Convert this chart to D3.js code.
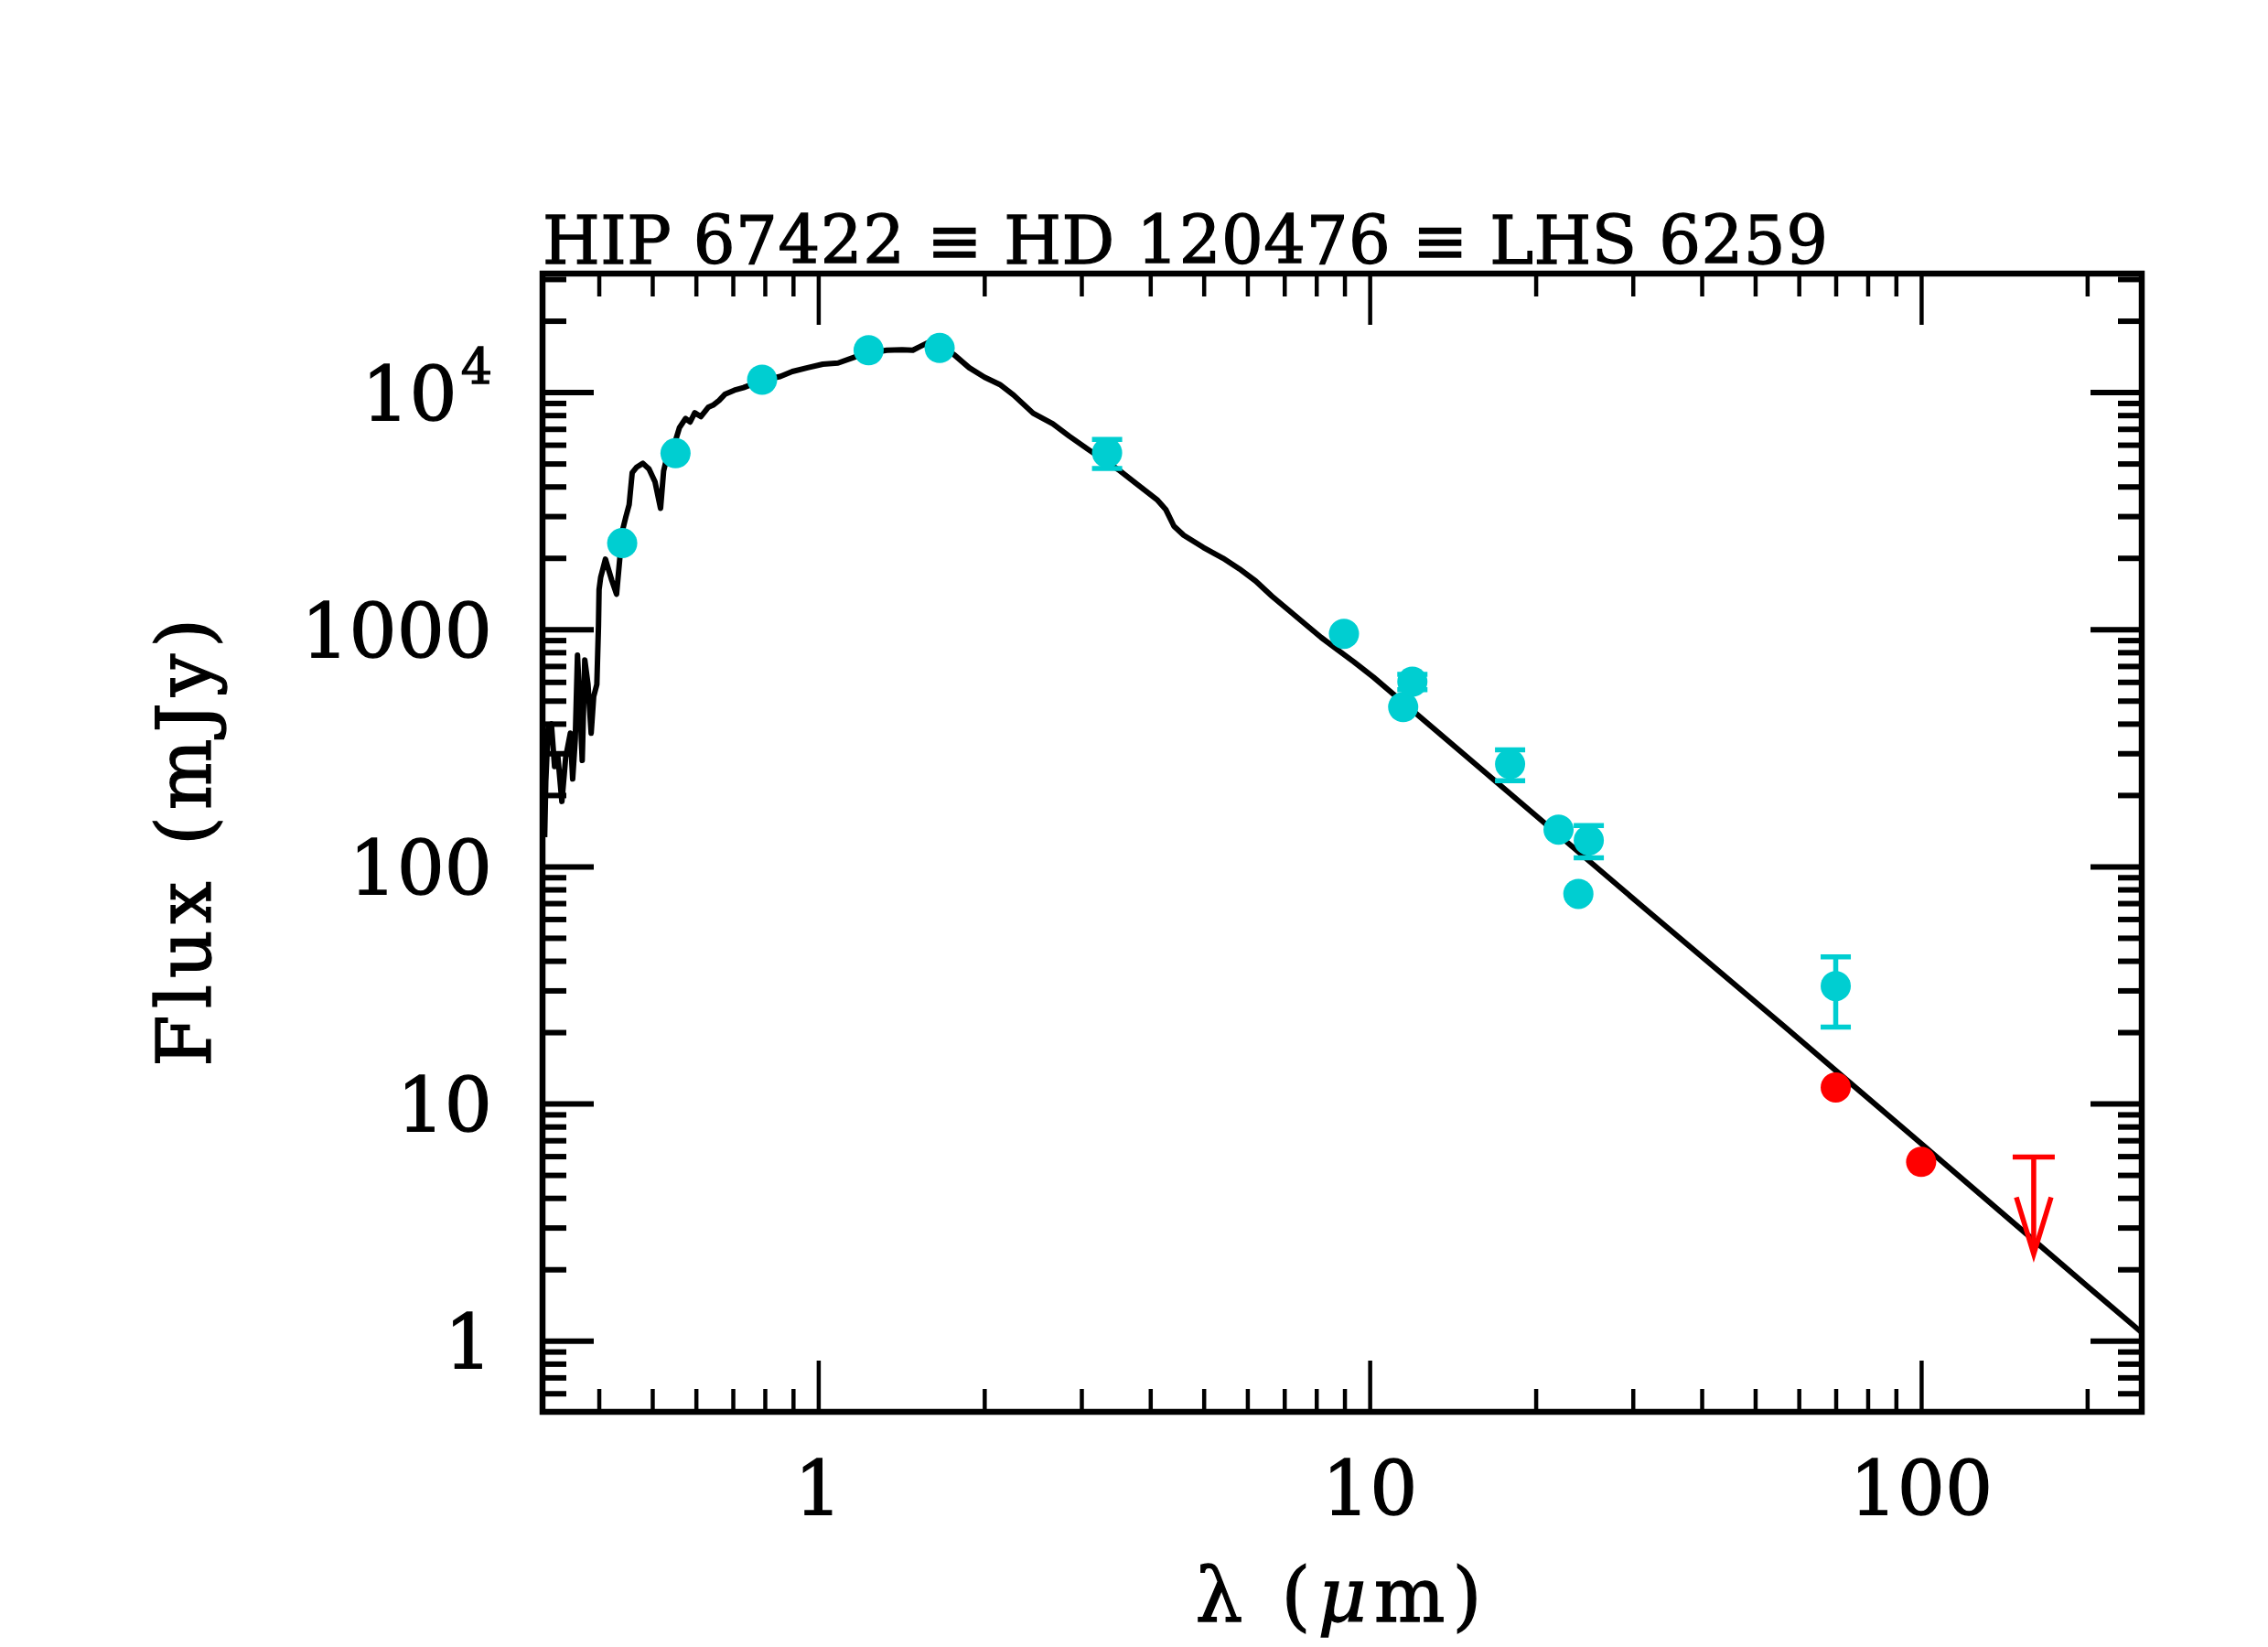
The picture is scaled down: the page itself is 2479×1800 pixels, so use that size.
<!DOCTYPE html>
<html>
<head>
<meta charset="utf-8">
<script src="https://cdn.jsdelivr.net/npm/d3@7"></script>
<style>
  body { margin: 0; background: #fff; }
  text { font-family: "DejaVu Serif", "Liberation Serif", serif; fill: #000; stroke: #000; stroke-width: 1.3px; }
</style>
</head>
<body>
<div id="sed"></div>
<script>
// photosphere model (wavelength in micron, flux in mJy)
const modelLambda = [0.3190, 0.3205, 0.3237, 0.3281, 0.3325, 0.3369, 0.3428, 0.3483, 0.3552, 0.3586,
  0.3625, 0.3659, 0.3698, 0.3732, 0.3772, 0.3823, 0.3874, 0.3915, 0.3967, 0.3994,
  0.4004, 0.4031, 0.4112, 0.4223, 0.4307, 0.4365, 0.4410, 0.4480, 0.4540, 0.4598,
  0.4687, 0.4808, 0.4932, 0.5059, 0.5176, 0.5243, 0.5323, 0.5495, 0.5601, 0.5745,
  0.5856, 0.5970, 0.6124, 0.6322, 0.6444, 0.6610, 0.6780, 0.7045, 0.7319, 0.7701,
  0.8102, 0.8528, 0.8974, 0.9563, 1.019, 1.086, 1.172, 1.250, 1.331, 1.419,
  1.484, 1.522, 1.582, 1.654, 1.763, 1.878, 2.002, 2.134, 2.259, 2.453,
  2.662, 2.851, 3.094, 3.499, 3.798, 4.124, 4.266, 4.415, 4.600, 4.993,
  5.419, 5.802, 6.211, 6.653, 7.124, 7.627, 8.168, 8.742, 9.361, 10.16,
  17.78, 31.88, 56.53, 100, 150, 200, 232.2, 251.5];
const modelFlux = [133, 227, 387, 399, 264, 296, 188, 288, 365, 234,
  344, 778, 462, 280, 743, 586, 365, 521, 586, 1030,
  1469, 1656, 1977, 1607, 1406, 1977, 2582, 2992, 3357, 4571,
  4831, 5012, 4742, 4178, 3236, 4656, 5383, 6124, 7079, 7745,
  7482, 8185, 7889, 8650, 8810, 9226, 9817, 10190, 10450, 10940,
  11350, 11640, 12220, 12680, 13120, 13270, 14130, 14660, 15030, 15100,
  15030, 15490, 16180, 16030, 14390, 12680, 11560, 10770, 9737, 8149,
  7352, 6527, 5713, 4714, 4064, 3503, 3205, 2723, 2492, 2214,
  1995, 1798, 1598, 1377, 1205, 1055, 923, 820, 729, 628,
  207, 65.1, 21.1, 6.78, 3.02, 1.70, 1.265, 1.08];

// photometry (cyan)
const photLambda = [0.441, 0.551, 0.791, 1.234, 1.66, 3.34, 8.98, 11.5, 11.95, 17.97, 22.0, 23.9, 24.96, 70];
const photFlux   = [2308, 5525, 11280, 15030, 15350, 5546, 957, 470, 601, 270, 143, 76.6, 128.8, 31.3];
const photErr    = [0, 0, 0, 0, 0, 780, 0, 0, 45, 40, 0, 0, 20, 10.3];

// new far-IR detections (red)
const farLambda = [70, 100];
const farFlux   = [11.7, 5.68];

// upper limit (red arrow)
const limLambda = [160];
const limFlux   = [5.95];
const limTip    = [2.32];

// ticks
const xMajor = [1, 10, 100];
const xMajorLabels = ["1", "10", "100"];
const xMinor = [0.4, 0.5, 0.6, 0.7, 0.8, 0.9, 2, 3, 4, 5, 6, 7, 8, 9,
  20, 30, 40, 50, 60, 70, 80, 90, 200];
const yMajor = [1, 10, 100, 1000, 10000];
const yMajorLabels = ["1", "10", "100", "1000", "10|4"];
const yMinor = [0.6, 0.7, 0.8, 0.9, 2, 3, 4, 5, 6, 7, 8, 9,
  20, 30, 40, 50, 60, 70, 80, 90, 200, 300, 400, 500, 600, 700, 800, 900,
  2000, 3000, 4000, 5000, 6000, 7000, 8000, 9000, 20000, 30000];

const titleText = "HIP 67422 \u2261 HD 120476 \u2261 LHS 6259";

const cyan = "rgb(0,206,209)";
const red = "#ff0000";

// set the dimensions and margins of the graph
const margin = {top: 299, right: 138, bottom: 257, left: 593},
    width = 2479 - margin.left - margin.right,
    height = 1800 - margin.top - margin.bottom;

const svgRoot = d3.select("#sed")
  .append("svg")
    .attr("width", 2479)
    .attr("height", 1800);

svgRoot.append("rect").attr("width", 2479).attr("height", 1800).attr("fill", "#fff");

const svg = svgRoot.append("g")
    .attr("transform", `translate(${margin.left},${margin.top})`);

const x = d3.scaleLog().domain([0.3162, 251.2]).range([0, width]);
const y = d3.scaleLog().domain([0.5012, 31623]).range([height, 0]);

// clip for the model curve
svg.append("clipPath").attr("id", "clip")
  .append("rect").attr("width", width).attr("height", height);

// model line
const model = modelLambda.map((l, i) => ({l: l, f: modelFlux[i]}));
svg.append("path")
    .datum(model)
    .attr("clip-path", "url(#clip)")
    .attr("fill", "none")
    .attr("stroke", "#000")
    .attr("stroke-width", 6)
    .attr("stroke-linejoin", "round")
    .attr("d", d3.line()
      .x(function(d) { return x(d.l) })
      .y(function(d) { return y(d.f) })
    );

// error bars
const phot = photLambda.map((l, i) => ({l: l, f: photFlux[i], e: photErr[i]}));
const withErr = phot.filter(d => d.e > 0);
const eb = svg.append("g").attr("stroke", cyan).attr("stroke-width", 5.5);
eb.selectAll(".stem").data(withErr).enter().append("line")
    .attr("x1", d => x(d.l)).attr("x2", d => x(d.l))
    .attr("y1", d => y(d.f - d.e)).attr("y2", d => y(d.f + d.e));
eb.selectAll(".capTop").data(withErr).enter().append("line")
    .attr("x1", d => x(d.l) - 16.5).attr("x2", d => x(d.l) + 16.5)
    .attr("y1", d => y(d.f + d.e)).attr("y2", d => y(d.f + d.e));
eb.selectAll(".capBot").data(withErr).enter().append("line")
    .attr("x1", d => x(d.l) - 16.5).attr("x2", d => x(d.l) + 16.5)
    .attr("y1", d => y(d.f - d.e)).attr("y2", d => y(d.f - d.e));

// cyan points
svg.append("g").selectAll("circle")
  .data(phot)
  .enter().append("circle")
    .attr("cx", d => x(d.l))
    .attr("cy", d => y(d.f))
    .attr("r", 16.5)
    .attr("fill", cyan);

// red points
svg.append("g").selectAll("circle")
  .data(farLambda.map((l, i) => ({l: l, f: farFlux[i]})))
  .enter().append("circle")
    .attr("cx", d => x(d.l))
    .attr("cy", d => y(d.f))
    .attr("r", 16.5)
    .attr("fill", red);

// upper limit arrow
const lim = limLambda.map((l, i) => ({l: l, f: limFlux[i], t: limTip[i]}));
const ul = svg.append("g").attr("stroke", red).attr("stroke-width", 5.5).attr("fill", "none");
lim.forEach(function(d) {
  const cx = x(d.l), top = y(d.f), tip = y(d.t);
  ul.append("line").attr("x1", cx - 23).attr("x2", cx + 23).attr("y1", top).attr("y2", top);
  ul.append("line").attr("x1", cx).attr("x2", cx).attr("y1", top).attr("y2", tip - 4);
  ul.append("path").attr("d", `M${cx - 19},${tip - 62} L${cx},${tip} L${cx + 19},${tip - 62}`);
});

// ticks, pointing inward on all four sides
function tickAxis(axis, vals, len, sw, transform) {
  const g = svg.append("g")
    .attr("transform", transform)
    .call(axis.tickValues(vals).tickSize(len).tickFormat(""));
  g.select(".domain").remove();
  g.selectAll("line").attr("stroke", "#000").attr("stroke-width", sw);
}
tickAxis(d3.axisBottom(x), xMajor, -56, 4.5, `translate(0,${height})`);
tickAxis(d3.axisBottom(x), xMinor, -25, 4.5, `translate(0,${height})`);
tickAxis(d3.axisTop(x), xMajor, -56, 4.5, "translate(0,0)");
tickAxis(d3.axisTop(x), xMinor, -25, 4.5, "translate(0,0)");
tickAxis(d3.axisLeft(y), yMajor, -56, 6, "translate(0,0)");
tickAxis(d3.axisLeft(y), yMinor, -26, 6, "translate(0,0)");
tickAxis(d3.axisRight(y), yMajor, -56, 6, `translate(${width},0)`);
tickAxis(d3.axisRight(y), yMinor, -26, 6, `translate(${width},0)`);

// frame
svg.append("rect")
    .attr("width", width)
    .attr("height", height)
    .attr("fill", "none")
    .attr("stroke", "#000")
    .attr("stroke-width", 6.5);

// x tick labels
svg.append("g").selectAll("text")
  .data(xMajor)
  .enter().append("text")
    .attr("x", d => x(d))
    .attr("y", height + 113)
    .attr("text-anchor", "middle")
    .style("font-size", "82px")
    .text((d, i) => xMajorLabels[i]);

// y tick labels
const yl = svg.append("g").selectAll("text")
  .data(yMajor)
  .enter().append("text")
    .attr("x", -55)
    .attr("y", d => y(d) + 31)
    .attr("text-anchor", "end")
    .style("font-size", "82px");
yl.each(function(d, i) {
  const parts = yMajorLabels[i].split("|");
  const t = d3.select(this);
  t.append("tspan").text(parts[0]);
  if (parts[1]) {
    t.append("tspan").attr("dy", -40).attr("dx", 4).style("font-size", "54px").text(parts[1]);
  }
});

// title
svg.append("text")
    .attr("x", 0)
    .attr("y", -11)
    .attr("textLength", 1405)
    .attr("lengthAdjust", "spacing")
    .style("font-size", "72px")
    .text(titleText);

// axis titles
svg.append("text")
    .attr("transform", `translate(${-363},${height / 2}) rotate(-90)`)
    .attr("text-anchor", "middle")
    .attr("textLength", 490)
    .attr("lengthAdjust", "spacing")
    .style("font-size", "82px")
    .text("Flux (mJy)");

const xt = svgRoot.append("text")
    .attr("x", 1463)
    .attr("y", 1772)
    .attr("text-anchor", "middle")
    .attr("textLength", 313)
    .attr("lengthAdjust", "spacing")
    .style("font-size", "82px");
xt.append("tspan").text("\u03bb (");
xt.append("tspan").style("font-style", "italic").text("\u03bc");
xt.append("tspan").text("m)");
</script>
</body>
</html>
